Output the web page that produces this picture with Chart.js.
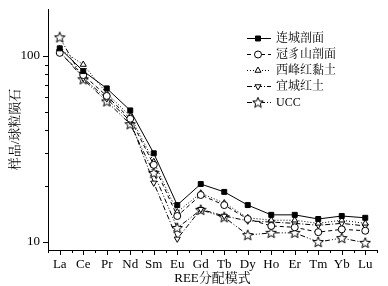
<!DOCTYPE html>
<html>
<head>
<meta charset="utf-8">
<script src="https://cdn.jsdelivr.net/npm/chart.js@4.4.0/dist/chart.umd.min.js"></script>
<style>
  html, body { margin: 0; padding: 0; background: #fff; }
</style>
</head>
<body>
<canvas id="reeChart" width="388" height="286"></canvas>
<script>
// REE elements (x categories)
const elements = ['La', 'Ce', 'Pr', 'Nd', 'Sm', 'Eu', 'Gd', 'Tb', 'Dy', 'Ho', 'Er', 'Tm', 'Yb', 'Lu'];

// chondrite-normalized values
const lianchengValues = [110, 83, 67, 51, 30, 15.8, 20.5, 18.6, 15.8, 14.0, 14.0, 13.3, 13.8, 13.5];
const guanzhishanValues = [104, 79, 61, 46, 26, 13.8, 17.9, 15.8, 13.3, 12.2, 12.0, 11.3, 11.7, 11.5];
const xifengValues = [109, 90, 63, 47.5, 27, 14.5, 18.3, 16.2, 13.5, 13.1, 13.1, 12.6, 13.1, 12.6];
const yichengValues = [106, 76, 59, 44.7, 20.8, 10.4, 15.0, 13.8, 13.0, 12.8, 12.6, 12.3, 12.6, 12.2];
const uccValues = [126, 75, 57, 43, 23.5, 11.9, 14.9, 13.6, 10.9, 11.2, 11.2, 10.0, 10.5, 9.9];

const seriesLabels = ['连城剖面', '冠豸山剖面', '西峰红黏土', '宜城红土', 'UCC'];

// y axis ticks
const yTickValues = [10, 20, 30, 40, 50, 60, 70, 80, 90, 100];
const yLabelValues = [10, 100];

const FONT = "'Liberation Serif', 'Noto Serif CJK SC', 'Noto Sans CJK SC', serif";

// hollow five-point star used as the UCC marker
function makeStar() {
  const c = document.createElement('canvas');
  c.width = 12; c.height = 12;
  const g = c.getContext('2d');
  g.beginPath();
  for (let i = 0; i < 10; i++) {
    const r = i % 2 === 0 ? 5.5 : 2.4;
    const a = -Math.PI / 2 + i * Math.PI / 5;
    const px = 6 + r * Math.cos(a), py = 6.3 + r * Math.sin(a);
    if (i === 0) g.moveTo(px, py); else g.lineTo(px, py);
  }
  g.closePath();
  g.fillStyle = '#fff';
  g.fill();
  g.strokeStyle = '#000';
  g.lineWidth = 1;
  g.stroke();
  return c;
}
const starImg = makeStar();

function series(label, values, dash, style, fill, rotation) {
  return {
    label: label,
    data: values,
    borderColor: '#000',
    borderWidth: 1,
    borderDash: dash,
    pointStyle: style,
    pointRadius: 3.5,
    pointRotation: rotation || 0,
    pointBackgroundColor: fill,
    pointBorderColor: '#000',
    pointBorderWidth: 1,
    tension: 0,
    fill: false,
  };
}

// tick marks drawn by hand: major/minor lengths differ
const tickMarks = {
  id: 'tickMarks',
  afterDraw(chart) {
    const { ctx, scales: { x, y }, chartArea } = chart;
    ctx.save();
    ctx.strokeStyle = '#000';
    ctx.lineWidth = 1;
    ctx.beginPath();
    yTickValues.forEach((v) => {
      const py = Math.round(y.getPixelForValue(v)) + 0.5;
      const len = yLabelValues.includes(v) ? 5 : 3;
      ctx.moveTo(chartArea.left, py);
      ctx.lineTo(chartArea.left - len, py);
    });
    const step = x.getPixelForValue(1) - x.getPixelForValue(0);
    for (let i = 0; i < elements.length; i++) {
      const px = Math.round(x.getPixelForValue(i)) + 0.5;
      ctx.moveTo(px, chartArea.bottom);
      ctx.lineTo(px, chartArea.bottom + 5);
      const mx = Math.round(x.getPixelForValue(i) - step / 2) + 0.5;
      ctx.moveTo(mx, chartArea.bottom);
      ctx.lineTo(mx, chartArea.bottom + 3);
    }
    const last = Math.round(x.getPixelForValue(elements.length - 1) + step / 2) + 0.5;
    ctx.moveTo(last, chartArea.bottom);
    ctx.lineTo(last, chartArea.bottom + 3);
    ctx.stroke();
    ctx.restore();
  },
};

// legend inside the plot, top right
const insideLegend = {
  id: 'insideLegend',
  afterDraw(chart) {
    const ctx = chart.ctx;
    ctx.save();
    chart.data.datasets.forEach((ds, i) => {
      const yy = 38 + i * 16;
      ctx.strokeStyle = '#000';
      ctx.lineWidth = 1;
      ctx.setLineDash(ds.borderDash);
      ctx.beginPath();
      ctx.moveTo(247, yy + 0.5);
      ctx.lineTo(271, yy + 0.5);
      ctx.stroke();
      ctx.setLineDash([]);
      ctx.fillStyle = ds.pointBackgroundColor;
      Chart.helpers.drawPoint(ctx, {
        pointStyle: ds.pointStyle,
        radius: 3.5,
        rotation: ds.pointRotation,
        borderWidth: 1,
      }, 258, yy + 0.5);
      ctx.fillStyle = '#000';
      ctx.font = '12px ' + FONT;
      ctx.textBaseline = 'middle';
      ctx.fillText(ds.label, 276, yy + 1);
    });
    ctx.restore();
  },
};

new Chart(document.getElementById('reeChart'), {
  type: 'line',
  data: {
    labels: elements,
    datasets: [
      series(seriesLabels[0], lianchengValues, [], 'rect', '#000'),
      series(seriesLabels[1], guanzhishanValues, [4, 3], 'circle', '#fff'),
      series(seriesLabels[2], xifengValues, [1, 2], 'triangle', '#fff'),
      series(seriesLabels[3], yichengValues, [5, 2, 1, 2], 'triangle', '#fff', 180),
      series(seriesLabels[4], uccValues, [5, 2, 1, 2, 1, 2], starImg, '#fff'),
    ],
  },
  options: {
    responsive: false,
    animation: false,
    devicePixelRatio: 1,
    layout: { padding: { left: 8, right: 11, top: 9, bottom: 0 } },
    plugins: { legend: { display: false }, tooltip: { enabled: false } },
    scales: {
      x: {
        type: 'category',
        offset: true,
        grid: { display: false, drawTicks: false },
        border: { display: true, color: '#000', width: 1 },
        ticks: { color: '#000', font: { family: FONT, size: 13 }, padding: 7, maxRotation: 0, autoSkip: false },
        title: { display: true, text: 'REE分配模式', color: '#000', font: { family: FONT, size: 13 }, padding: 0 },
        afterFit(scale) {
          scale.height = 36;
          scale.paddingLeft = 0;
          scale.paddingRight = 0;
        },
      },
      y: {
        type: 'logarithmic',
        min: 9.06,
        max: 179,
        grid: { display: false, drawTicks: false },
        border: { display: true, color: '#000', width: 1 },
        afterBuildTicks(scale) { scale.ticks = yTickValues.map((v) => ({ value: v })); },
        ticks: {
          color: '#000',
          font: { family: FONT, size: 13 },
          padding: 8,
          autoSkip: false,
          callback: (v) => (yLabelValues.includes(v) ? String(v) : ''),
        },
        title: { display: true, text: '样品/球粒陨石', color: '#000', font: { family: FONT, size: 13 }, padding: 0 },
        afterFit(scale) {
          scale.width = 40;
          scale.paddingTop = 0;
          scale.paddingBottom = 0;
        },
      },
    },
  },
  plugins: [tickMarks, insideLegend],
});
</script>
</body>
</html>
